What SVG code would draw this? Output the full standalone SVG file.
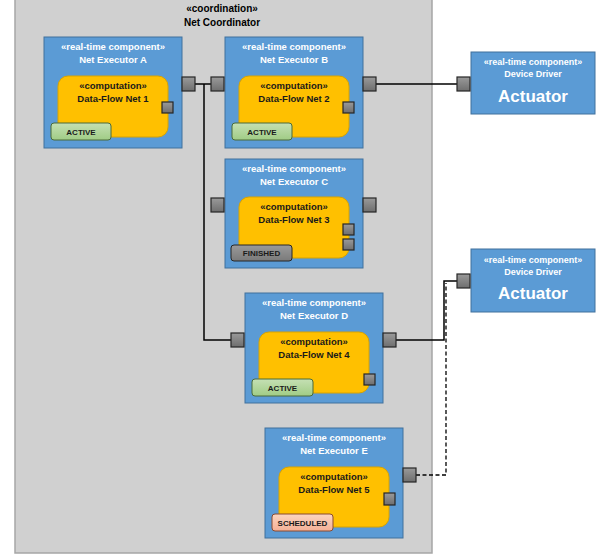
<svg xmlns="http://www.w3.org/2000/svg" width="600" height="558" viewBox="0 0 600 558">
<defs>
<linearGradient id="pg" x1="0" y1="0" x2="0" y2="1"><stop offset="0" stop-color="#9a9a9a"/><stop offset="1" stop-color="#6e6e6e"/></linearGradient>
<linearGradient id="gg" x1="0" y1="0" x2="0" y2="1"><stop offset="0" stop-color="#c5e0b4"/><stop offset="1" stop-color="#a0cc85"/></linearGradient>
<linearGradient id="fg" x1="0" y1="0" x2="0" y2="1"><stop offset="0" stop-color="#9a9a9a"/><stop offset="1" stop-color="#7a7a7a"/></linearGradient>
<linearGradient id="sg" x1="0" y1="0" x2="0" y2="1"><stop offset="0" stop-color="#fbd5c0"/><stop offset="1" stop-color="#f4b096"/></linearGradient>
</defs>
<style>
text{font-family:"Liberation Sans",Arial,sans-serif;font-weight:bold;text-anchor:middle}
.comp{fill:#5b9bd5;stroke:#41719c;stroke-width:1}
.inner{fill:#ffc000;stroke:#d9a300;stroke-width:1}
.port{fill:url(#pg);stroke:#262626;stroke-width:1.2}
.wt{fill:#ffffff;font-size:9.5px}
.dt{fill:#1a1a1a;font-size:9.5px}
.bt{fill:#1a1a1a;font-size:8px}
.active{fill:url(#gg);stroke:#4a6b3a;stroke-width:1}
.fin{fill:url(#fg);stroke:#262626;stroke-width:1}
.sch{fill:url(#sg);stroke:#8a4a30;stroke-width:1}
.wire{fill:none;stroke:#000;stroke-width:1.5}
.dash{fill:none;stroke:#000;stroke-width:1.3;stroke-dasharray:4,2.5}
</style>
<rect width="600" height="558" fill="#ffffff"/>
<g id="coordinator">
<rect x="15" y="-5" width="417" height="558" fill="#d0d0d0" stroke="#a6a6a6" stroke-width="1.5"/>
<text x="222" y="12" style="font-size:10px;fill:#000">«coordination»</text>
<text x="222" y="26" style="font-size:10px;fill:#000">Net Coordinator</text>
</g>
<g id="connectors">
<path class="wire" d="M195,84 H211 M204,84 V340 H231"/>
<path class="wire" d="M376,84 H457"/>
<path class="wire" d="M396,340 H444 V281 H457"/>
<path class="dash" d="M416,475 H446 V283"/>
</g>
<g id="execA" transform="translate(44,37)">
<rect class="comp" x="0" y="0" width="138" height="111"/>
<text class="wt" x="69" y="13">«real-time component»</text>
<text class="wt" x="69" y="26">Net Executor A</text>
<rect class="inner" x="14" y="39" width="110" height="61" rx="10"/>
<text class="dt" x="69" y="52">«computation»</text>
<text class="dt" x="69" y="65">Data-Flow Net 1</text>
<rect class="port" x="118" y="65" width="11" height="11"/>
<rect class="active" x="7" y="86" width="60" height="17" rx="3"/>
<text class="bt" x="37" y="97.5">ACTIVE</text>
<rect class="port" x="138" y="40" width="13" height="14"/>
</g>
<g id="execB" transform="translate(225,37)">
<rect class="comp" x="0" y="0" width="138" height="111"/>
<text class="wt" x="69" y="13">«real-time component»</text>
<text class="wt" x="69" y="26">Net Executor B</text>
<rect class="inner" x="14" y="39" width="110" height="61" rx="10"/>
<text class="dt" x="69" y="52">«computation»</text>
<text class="dt" x="69" y="65">Data-Flow Net 2</text>
<rect class="port" x="118" y="65" width="11" height="11"/>
<rect class="active" x="7" y="86" width="60" height="17" rx="3"/>
<text class="bt" x="37" y="97.5">ACTIVE</text>
<rect class="port" x="-14" y="40" width="13" height="14"/>
<rect class="port" x="138" y="40" width="13" height="14"/>
</g>
<g id="execC" transform="translate(225,159)">
<rect class="comp" x="0" y="0" width="138" height="109"/>
<text class="wt" x="69" y="13">«real-time component»</text>
<text class="wt" x="69" y="26">Net Executor C</text>
<rect class="inner" x="14" y="38" width="110" height="61" rx="10"/>
<text class="dt" x="69" y="51">«computation»</text>
<text class="dt" x="69" y="64">Data-Flow Net 3</text>
<rect class="port" x="118" y="65" width="11" height="11"/>
<rect class="port" x="118" y="80" width="11" height="11"/>
<rect class="fin" x="6" y="86" width="61" height="16" rx="3"/>
<text class="bt" x="36.5" y="97">FINISHED</text>
<rect class="port" x="-14" y="39" width="13" height="14"/>
<rect class="port" x="138" y="39" width="13" height="14"/>
</g>
<g id="execD" transform="translate(245,293)">
<rect class="comp" x="0" y="0" width="138" height="110"/>
<text class="wt" x="69" y="13">«real-time component»</text>
<text class="wt" x="69" y="26">Net Executor D</text>
<rect class="inner" x="14" y="39" width="110" height="61" rx="10"/>
<text class="dt" x="69" y="52">«computation»</text>
<text class="dt" x="69" y="65">Data-Flow Net 4</text>
<rect class="port" x="119" y="81" width="11" height="11"/>
<rect class="active" x="7" y="86" width="61" height="17" rx="3"/>
<text class="bt" x="37.5" y="97.5">ACTIVE</text>
<rect class="port" x="-14" y="40" width="13" height="14"/>
<rect class="port" x="138" y="40" width="13" height="14"/>
</g>
<g id="execE" transform="translate(265,428)">
<rect class="comp" x="0" y="0" width="138" height="110"/>
<text class="wt" x="69" y="13">«real-time component»</text>
<text class="wt" x="69" y="26">Net Executor E</text>
<rect class="inner" x="14" y="39" width="110" height="60" rx="10"/>
<text class="dt" x="69" y="52">«computation»</text>
<text class="dt" x="69" y="65">Data-Flow Net 5</text>
<rect class="port" x="119" y="65" width="11" height="12"/>
<rect class="sch" x="7" y="86" width="61" height="17" rx="3"/>
<text class="bt" x="37.5" y="97.5">SCHEDULED</text>
<rect class="port" x="138" y="40" width="13" height="14"/>
</g>
<g id="actuator1" transform="translate(471,52)">
<rect class="comp" x="0" y="0" width="124" height="62"/>
<text class="wt" x="62" y="13" style="font-size:9px">«real-time component»</text>
<text class="wt" x="62" y="25" style="font-size:9px">Device Driver</text>
<text class="wt" x="62" y="50" style="font-size:17px">Actuator</text>
<rect class="port" x="-14" y="25" width="13" height="14"/>
</g>
<g id="actuator2" transform="translate(471,249)">
<rect class="comp" x="0" y="0" width="124" height="63"/>
<text class="wt" x="62" y="14" style="font-size:9px">«real-time component»</text>
<text class="wt" x="62" y="26" style="font-size:9px">Device Driver</text>
<text class="wt" x="62" y="50" style="font-size:17px">Actuator</text>
<rect class="port" x="-14" y="25" width="13" height="14"/>
</g>
</svg>
